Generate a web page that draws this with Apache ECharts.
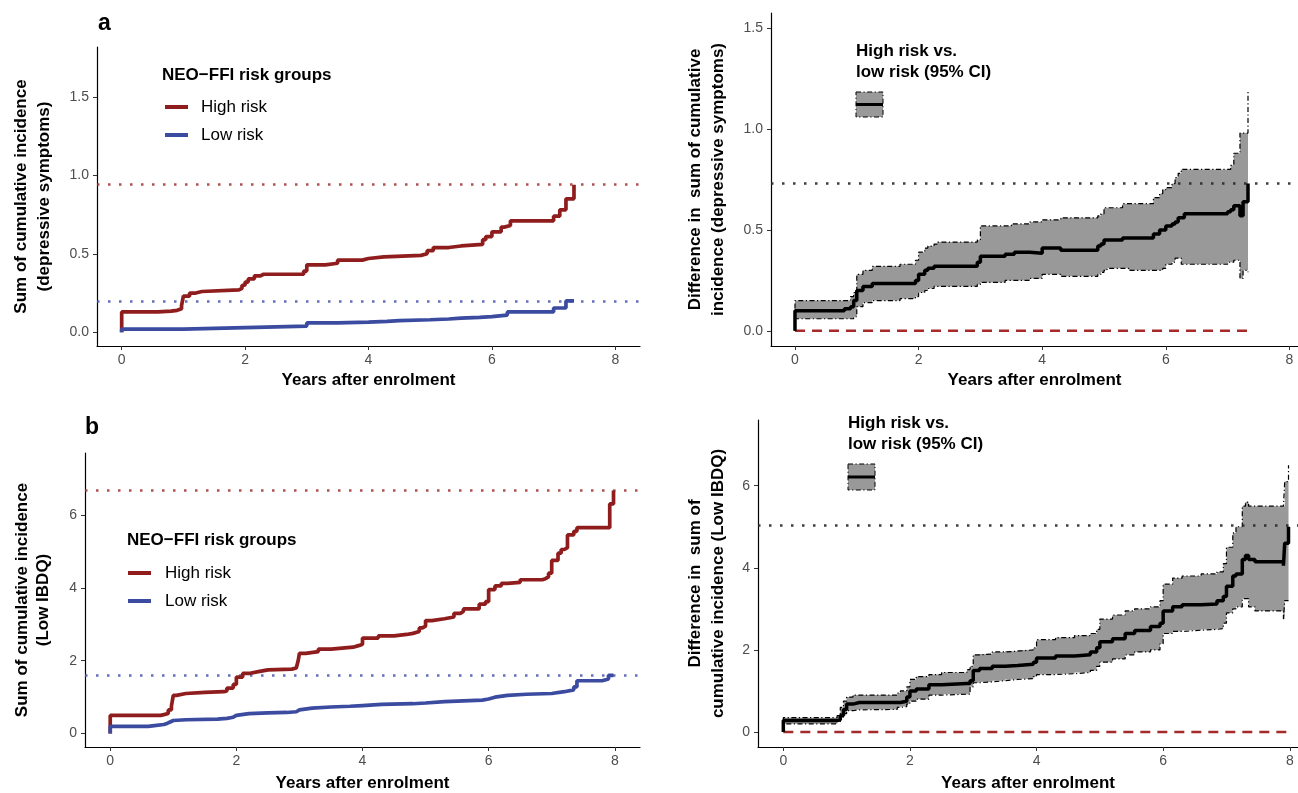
<!DOCTYPE html>
<html>
<head>
<meta charset="utf-8">
<script src="https://cdn.jsdelivr.net/npm/echarts@6/dist/echarts.min.js"></script>
<style>html,body{margin:0;padding:0;background:#fff;}#main{width:1298px;height:793px;}</style>
</head>
<body>
<div id="main"></div>
<script>
// ---------- data ----------
const xTicks = [0, 2, 4, 6, 8];
const aYTicks = [0, 0.5, 1.0, 1.5];
const bYTicks = [0, 2, 4, 6];

// Panel a, left: cumulative incidence (depressive symptoms)
const aHighX = [0, 0, 0.59, 0.8, 0.9, 0.97, 1.0, 1.1, 1.2, 1.3, 1.9, 1.95, 2.0, 2.05, 2.15, 2.25, 2.3, 2.95, 3.0, 3.3, 3.5, 3.9, 4.0, 4.25, 4.85, 4.95, 5.05, 5.3, 5.5, 5.85, 5.9, 6.0, 6.15, 6.2, 6.3, 7.0, 7.1, 7.2, 7.33];
const aHighY = [0, 0.13, 0.135, 0.14, 0.15, 0.17, 0.23, 0.25, 0.26, 0.27, 0.28, 0.30, 0.32, 0.34, 0.36, 0.37, 0.37, 0.39, 0.43, 0.44, 0.46, 0.47, 0.48, 0.49, 0.50, 0.52, 0.54, 0.55, 0.56, 0.59, 0.61, 0.64, 0.67, 0.68, 0.71, 0.74, 0.78, 0.85, 0.94];
const aLowX = [0, 0, 1.0, 2.0, 3.0, 3.5, 4.0, 4.3, 4.5, 5.0, 5.3, 5.5, 5.8, 6.0, 6.25, 7.0, 7.2, 7.33];
const aLowY = [0, 0.02, 0.03, 0.04, 0.06, 0.065, 0.07, 0.075, 0.08, 0.085, 0.09, 0.095, 0.10, 0.11, 0.13, 0.155, 0.20, 0.20];
const aRefY = [0.94, 0.20];

// Panel a, right: difference (95% CI)
const aDiffX  = [0, 0, 0.8, 0.9, 0.95, 1.0, 1.1, 1.25, 1.3, 1.7, 1.9, 1.95, 2.0, 2.1, 2.15, 2.25, 2.3, 2.9, 2.95, 3.0, 3.4, 3.5, 3.55, 3.8, 4.0, 4.3, 4.8, 4.9, 4.95, 5.0, 5.05, 5.3, 5.4, 5.75, 5.8, 5.9, 5.95, 6.0, 6.1, 6.15, 6.2, 6.25, 6.3, 7.0, 7.05, 7.1, 7.15, 7.2, 7.25, 7.33];
const aDiff   = [0, 0.10, 0.11, 0.12, 0.15, 0.20, 0.22, 0.235, 0.235, 0.235, 0.235, 0.25, 0.28, 0.30, 0.31, 0.32, 0.32, 0.32, 0.34, 0.37, 0.38, 0.38, 0.39, 0.385, 0.41, 0.40, 0.40, 0.42, 0.43, 0.45, 0.45, 0.46, 0.46, 0.46, 0.48, 0.50, 0.50, 0.52, 0.53, 0.54, 0.56, 0.56, 0.58, 0.59, 0.60, 0.62, 0.62, 0.57, 0.64, 0.73];
const aDiffHi = [0, 0.15, 0.15, 0.17, 0.19, 0.28, 0.30, 0.32, 0.32, 0.33, 0.33, 0.35, 0.39, 0.41, 0.42, 0.43, 0.44, 0.44, 0.45, 0.52, 0.52, 0.53, 0.53, 0.54, 0.55, 0.56, 0.56, 0.57, 0.58, 0.61, 0.61, 0.63, 0.63, 0.63, 0.66, 0.68, 0.70, 0.71, 0.73, 0.76, 0.78, 0.80, 0.80, 0.80, 0.82, 0.88, 0.88, 0.98, 0.98, 1.19];
const aDiffLo = [0, 0.06, 0.06, 0.06, 0.07, 0.12, 0.14, 0.15, 0.15, 0.16, 0.16, 0.17, 0.19, 0.20, 0.21, 0.22, 0.22, 0.22, 0.23, 0.24, 0.25, 0.25, 0.25, 0.26, 0.28, 0.27, 0.27, 0.28, 0.29, 0.30, 0.31, 0.31, 0.30, 0.30, 0.30, 0.30, 0.31, 0.33, 0.34, 0.36, 0.36, 0.33, 0.33, 0.34, 0.34, 0.35, 0.35, 0.26, 0.30, 0.29];
const aDiffRef = [0.735];
const aZeroX = [0, 7.33];

// Panel b, left: cumulative incidence (Low IBDQ)
const bHighX = [0, 0, 0.8, 0.85, 0.92, 0.97, 1.0, 1.05, 1.2, 1.5, 1.8, 1.85, 1.95, 2.0, 2.1, 2.2, 2.35, 2.5, 2.88, 2.95, 2.98, 3.0, 3.1, 3.3, 3.5, 3.85, 3.95, 4.0, 4.25, 4.5, 4.7, 4.8, 4.9, 4.95, 5.0, 5.1, 5.3, 5.45, 5.55, 5.6, 5.85, 5.95, 6.0, 6.1, 6.2, 6.3, 6.5, 6.85, 6.9, 6.95, 7.0, 7.1, 7.15, 7.2, 7.25, 7.35, 7.4, 7.92, 7.98];
const bHighY = [0, 0.5, 0.52, 0.55, 0.65, 0.75, 1.05, 1.1, 1.13, 1.15, 1.17, 1.25, 1.35, 1.55, 1.65, 1.7, 1.75, 1.77, 1.8, 1.85, 2.0, 2.2, 2.25, 2.32, 2.37, 2.42, 2.45, 2.62, 2.68, 2.72, 2.75, 2.8, 2.9, 2.95, 3.1, 3.15, 3.2, 3.3, 3.35, 3.42, 3.55, 3.62, 3.95, 4.05, 4.12, 4.15, 4.22, 4.25, 4.3, 4.4, 4.75, 4.95, 5.05, 5.1, 5.45, 5.55, 5.65, 6.3, 6.67];
const bLowX = [0, 0, 0.6, 0.7, 0.85, 0.9, 0.95, 1.0, 1.2, 1.7, 1.85, 1.95, 2.0, 2.2, 2.5, 2.8, 2.95, 3.0, 3.2, 3.5, 3.8, 4.0, 4.3, 4.8, 5.0, 5.3, 5.6, 5.9, 6.0, 6.1, 6.3, 6.6, 7.0, 7.2, 7.35, 7.4, 7.8, 7.9, 7.98];
const bLowY = [0, 0.2, 0.22, 0.25, 0.28, 0.32, 0.36, 0.38, 0.4, 0.42, 0.45, 0.5, 0.55, 0.57, 0.58, 0.6, 0.65, 0.7, 0.73, 0.75, 0.77, 0.8, 0.82, 0.84, 0.88, 0.9, 0.92, 0.95, 1.0, 1.05, 1.08, 1.1, 1.15, 1.2, 1.28, 1.45, 1.5, 1.6, 1.6];
const bRefY = [6.67, 1.61];

// Panel b, right: difference (95% CI)
const bDiffX  = [0, 0, 0.85, 0.9, 0.95, 1.0, 1.1, 1.2, 1.8, 1.85, 1.95, 2.0, 2.1, 2.3, 2.5, 2.9, 2.95, 3.0, 3.1, 3.3, 3.5, 3.7, 3.95, 4.0, 4.3, 4.6, 4.85, 4.95, 5.0, 5.2, 5.4, 5.55, 5.8, 5.95, 6.0, 6.15, 6.3, 6.6, 6.85, 6.95, 7.0, 7.1, 7.15, 7.25, 7.3, 7.35, 7.45, 7.9, 7.92, 7.98];
const bDiff   = [0, 0.28, 0.3, 0.4, 0.55, 0.68, 0.72, 0.72, 0.72, 0.75, 0.85, 1.0, 1.05, 1.15, 1.18, 1.18, 1.25, 1.5, 1.55, 1.6, 1.62, 1.65, 1.7, 1.8, 1.85, 1.88, 1.95, 2.05, 2.2, 2.27, 2.4, 2.47, 2.57, 2.65, 2.95, 3.05, 3.1, 3.12, 3.2, 3.3, 3.55, 3.8, 3.85, 4.2, 4.3, 4.2, 4.15, 4.05, 4.6, 5.0];
const bDiffHi = [0, 0.35, 0.4, 0.6, 0.75, 0.85, 0.9, 0.9, 0.95, 1.0, 1.1, 1.28, 1.35, 1.4, 1.45, 1.52, 1.6, 1.88, 1.9, 1.95, 1.97, 2.0, 2.05, 2.25, 2.3, 2.35, 2.4, 2.5, 2.75, 2.85, 2.95, 3.0, 3.05, 3.2, 3.6, 3.75, 3.8, 3.85, 3.9, 4.1, 4.5, 4.85, 5.0, 5.5, 5.6, 5.5, 5.5, 5.5, 6.1, 6.5];
const bDiffLo = [0, 0.2, 0.25, 0.35, 0.45, 0.52, 0.54, 0.55, 0.6, 0.62, 0.68, 0.75, 0.8, 0.9, 0.92, 0.92, 1.1, 1.2, 1.22, 1.25, 1.28, 1.3, 1.35, 1.4, 1.42, 1.45, 1.5, 1.6, 1.7, 1.78, 1.88, 1.95, 2.0, 2.15, 2.4, 2.45, 2.48, 2.5, 2.52, 2.65, 2.9, 3.0, 3.05, 3.25, 3.25, 3.05, 2.95, 2.75, 3.2, 3.2];
const bDiffRef = [5.03];
const bZeroX = [0, 7.98];

// ---------- helpers ----------
const FONT = "'Liberation Sans', Arial, Helvetica, sans-serif";
const RED = '#8f1d1d', BLUE = '#3b4ba0', GREY = '#999999';
function pairs(xs, ys) { return xs.map((x, i) => [x, ys[i]]); }
function stepBand(xs, lo, hi) {
  const pts = [];
  const n = xs.length;
  for (let i = 0; i < n; i++) {
    pts.push([xs[i], hi[i]]);
    if (i < n - 1) pts.push([xs[i + 1], hi[i]]);
  }
  for (let i = n - 1; i >= 0; i--) {
    if (i < n - 1) pts.push([xs[i + 1], lo[i]]);
    pts.push([xs[i], lo[i]]);
  }
  return pts;
}
function xAxisCfg(g, min, max, gap) {
  return {
    type: 'value', gridIndex: g, min: min, max: max,
    axisLine: { show: true, onZero: false, lineStyle: { color: '#000', width: 1.2 } },
    axisTick: { show: true, length: 4, customValues: xTicks, lineStyle: { color: '#333', width: 1 } },
    axisLabel: { customValues: xTicks, color: '#4d4d4d', fontSize: 14, fontFamily: FONT, margin: 7 },
    splitLine: { show: false },
    name: 'Years after enrolment', nameLocation: 'middle', nameGap: gap,
    nameTextStyle: { fontSize: 17, fontWeight: 'bold', color: '#000', fontFamily: FONT }
  };
}
function yAxisCfg(g, min, max, ticks, dec, name, gap, lh) {
  return {
    type: 'value', gridIndex: g, min: min, max: max,
    axisLine: { show: true, onZero: false, lineStyle: { color: '#000', width: 1.2 } },
    axisTick: { show: true, length: 4, customValues: ticks, lineStyle: { color: '#333', width: 1 } },
    axisLabel: { customValues: ticks, color: '#4d4d4d', fontSize: 14, fontFamily: FONT, margin: 8,
      formatter: v => v.toFixed(dec) },
    splitLine: { show: false },
    name: name, nameLocation: 'middle', nameRotate: 90, nameGap: gap,
    nameTextStyle: { fontSize: 17, fontWeight: 'bold', color: '#000', fontFamily: FONT, lineHeight: lh }
  };
}
function stepLine(g, name, data, color, width, extra) {
  return Object.assign({
    type: 'line', name: name, xAxisIndex: g, yAxisIndex: g, data: data, step: 'end',
    showSymbol: false, symbol: 'none', silent: true, z: 5,
    lineStyle: { color: color, width: width }
  }, extra || {});
}
function refLine(value, color) {
  return {
    silent: true, symbol: 'none', label: { show: false },
    lineStyle: { type: [2.5, 8.5], color: color, width: 2.5, cap: 'butt' },
    data: [{ yAxis: value }]
  };
}
function bandSeries(g, xs, lo, hi) {
  const pts = stepBand(xs, lo, hi);
  return {
    type: 'custom', xAxisIndex: g, yAxisIndex: g, coordinateSystem: 'cartesian2d',
    data: [[0, 0]], silent: true, z: 1,
    renderItem: function (params, api) {
      return { type: 'polygon', shape: { points: pts.map(p => api.coord(p)) }, style: { fill: GREY } };
    }
  };
}
const dashDot = [5, 2.5, 1.2, 2.5];

const chart = echarts.init(document.getElementById('main'), null, { renderer: 'canvas' });

const option = {
  animation: false,
  backgroundColor: '#fff',
  grid: [
    { left: 97, top: 47, width: 543, height: 299 },
    { left: 771, top: 13, width: 527, height: 333 },
    { left: 85, top: 453, width: 555, height: 299 },
    { left: 758, top: 420, width: 540, height: 332 }
  ],
  xAxis: [xAxisCfg(0, -0.4, 8.4, 26), xAxisCfg(1, -0.388, 8.139, 26), xAxisCfg(2, -0.4, 8.4, 28), xAxisCfg(3, -0.4, 8.13, 28)],
  yAxis: [
    yAxisCfg(0, -0.087, 1.817, aYTicks, 1, 'Sum of cumulative incidence\n(depressive symptoms)', 41, 23),
    yAxisCfg(1, -0.075, 1.575, aYTicks, 1, 'Difference in  sum of cumulative\nincidence (depressive symptoms)', 41, 23),
    yAxisCfg(2, -0.367, 7.697, bYTicks, 0, 'Sum of cumulative incidence\n(Low IBDQ)', 31, 21),
    yAxisCfg(3, -0.365, 7.6, bYTicks, 0, 'Difference in  sum of\ncumulative incidence (Low IBDQ)', 28, 23)
  ],
  series: [
    // panel a left
    stepLine(0, 'High risk', pairs(aHighX, aHighY), RED, 3.7, { markLine: refLine(aRefY[0], 'rgba(160,50,50,0.85)') }),
    stepLine(0, 'Low risk', pairs(aLowX, aLowY), BLUE, 3.7, { markLine: refLine(aRefY[1], 'rgba(70,85,175,0.85)') }),
    // panel a right
    bandSeries(1, aDiffX, aDiffLo, aDiffHi),
    stepLine(1, 'CI upper', pairs(aDiffX, aDiffHi), '#000', 1.2, { z: 3, lineStyle: { color: '#000', width: 1.2, type: dashDot } }),
    stepLine(1, 'CI lower', pairs(aDiffX, aDiffLo), '#000', 1.2, { z: 3, lineStyle: { color: '#000', width: 1.2, type: dashDot } }),
    stepLine(1, 'Difference', pairs(aDiffX, aDiff), '#000', 3.5, { markLine: refLine(aDiffRef[0], 'rgba(40,40,40,0.9)') }),
    { type: 'line', xAxisIndex: 1, yAxisIndex: 1, data: aZeroX.map(x => [x, 0]), showSymbol: false, symbol: 'none',
      silent: true, z: 4, lineStyle: { color: '#a52a2a', width: 2.5, type: [10, 7] } },
    // panel b left
    stepLine(2, 'High risk', pairs(bHighX, bHighY), RED, 3.7, { markLine: refLine(bRefY[0], 'rgba(160,50,50,0.85)') }),
    stepLine(2, 'Low risk', pairs(bLowX, bLowY), BLUE, 3.7, { markLine: refLine(bRefY[1], 'rgba(70,85,175,0.85)') }),
    // panel b right
    bandSeries(3, bDiffX, bDiffLo, bDiffHi),
    stepLine(3, 'CI upper', pairs(bDiffX, bDiffHi), '#000', 1.2, { z: 3, lineStyle: { color: '#000', width: 1.2, type: dashDot } }),
    stepLine(3, 'CI lower', pairs(bDiffX, bDiffLo), '#000', 1.2, { z: 3, lineStyle: { color: '#000', width: 1.2, type: dashDot } }),
    stepLine(3, 'Difference', pairs(bDiffX, bDiff), '#000', 3.5, { markLine: refLine(bDiffRef[0], 'rgba(40,40,40,0.9)') }),
    { type: 'line', xAxisIndex: 3, yAxisIndex: 3, data: bZeroX.map(x => [x, 0]), showSymbol: false, symbol: 'none',
      silent: true, z: 4, lineStyle: { color: '#a52a2a', width: 2.5, type: [10, 7] } }
  ],
  graphic: [
    // panel labels
    { type: 'text', left: 98, top: 12, style: { text: 'a', font: 'bold 23px ' + FONT, fill: '#000' } },
    { type: 'text', left: 85, top: 416, style: { text: 'b', font: 'bold 23px ' + FONT, fill: '#000' } },
    // legend a
    { type: 'text', x: 162, y: 75, style: { text: 'NEO\u2212FFI risk groups', font: 'bold 17px ' + FONT, fill: '#000', verticalAlign: 'middle' } },
    { type: 'line', shape: { x1: 165, y1: 107, x2: 188, y2: 107 }, style: { stroke: RED, lineWidth: 4 } },
    { type: 'text', x: 201, y: 107, style: { text: 'High risk', font: '17px ' + FONT, fill: '#000', verticalAlign: 'middle' } },
    { type: 'line', shape: { x1: 165, y1: 135, x2: 188, y2: 135 }, style: { stroke: BLUE, lineWidth: 4 } },
    { type: 'text', x: 201, y: 135, style: { text: 'Low risk', font: '17px ' + FONT, fill: '#000', verticalAlign: 'middle' } },
    // legend b
    { type: 'text', x: 127, y: 540, style: { text: 'NEO\u2212FFI risk groups', font: 'bold 17px ' + FONT, fill: '#000', verticalAlign: 'middle' } },
    { type: 'line', shape: { x1: 128, y1: 573, x2: 151, y2: 573 }, style: { stroke: RED, lineWidth: 4 } },
    { type: 'text', x: 165, y: 573, style: { text: 'High risk', font: '17px ' + FONT, fill: '#000', verticalAlign: 'middle' } },
    { type: 'line', shape: { x1: 128, y1: 601, x2: 151, y2: 601 }, style: { stroke: BLUE, lineWidth: 4 } },
    { type: 'text', x: 165, y: 601, style: { text: 'Low risk', font: '17px ' + FONT, fill: '#000', verticalAlign: 'middle' } },
    // legend a right
    { type: 'text', x: 856, y: 41, style: { text: 'High risk vs.\nlow risk (95% CI)', font: 'bold 17px ' + FONT, fill: '#000', lineHeight: 21 } },
    { type: 'rect', shape: { x: 856, y: 92, width: 27, height: 25 }, style: { fill: GREY, stroke: '#000', lineWidth: 1, lineDash: dashDot } },
    { type: 'line', shape: { x1: 856, y1: 104.5, x2: 883, y2: 104.5 }, style: { stroke: '#000', lineWidth: 3 } },
    // legend b right
    { type: 'text', x: 848, y: 413, style: { text: 'High risk vs.\nlow risk (95% CI)', font: 'bold 17px ' + FONT, fill: '#000', lineHeight: 21 } },
    { type: 'rect', shape: { x: 848, y: 464, width: 27, height: 26 }, style: { fill: GREY, stroke: '#000', lineWidth: 1, lineDash: dashDot } },
    { type: 'line', shape: { x1: 848, y1: 477, x2: 875, y2: 477 }, style: { stroke: '#000', lineWidth: 3 } }
  ]
};
chart.setOption(option);
</script>
</body>
</html>
